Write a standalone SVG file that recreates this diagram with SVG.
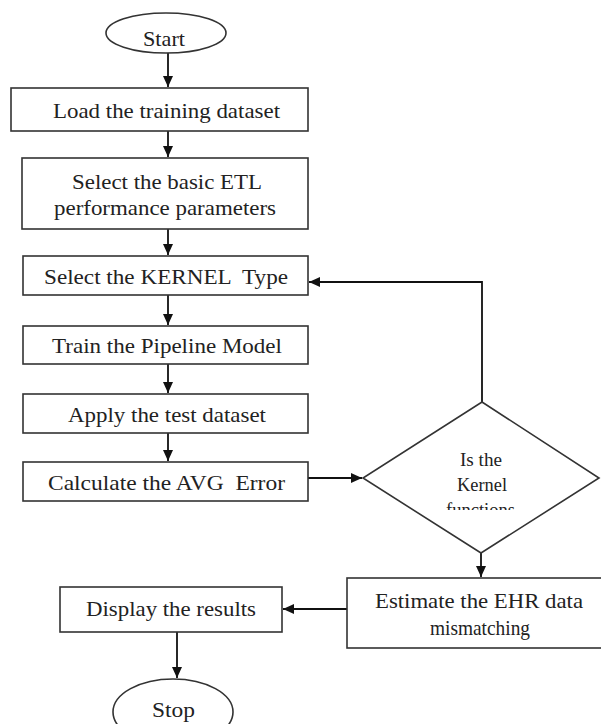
<svg xmlns="http://www.w3.org/2000/svg" width="601" height="724" viewBox="0 0 601 724">
<style>
.box{fill:#fff;stroke:#333;stroke-width:1.6}
.t{font-family:"Liberation Serif","Times New Roman",serif;font-size:22px;fill:#222;text-anchor:middle}
.s{font-family:"Liberation Serif","Times New Roman",serif;font-size:19px;fill:#222;text-anchor:middle}
.c{fill:none;stroke:#111;stroke-width:1.8}
</style>
<defs>
<marker id="ah" markerUnits="userSpaceOnUse" markerWidth="12" markerHeight="10" refX="11" refY="5" orient="auto">
<path d="M0,0 L11,5 L0,10 z" fill="#111"/>
</marker>
<clipPath id="fclip"><rect x="400" y="440" width="160" height="70"/></clipPath>
</defs>
<g id="connectors">
<line class="c" x1="168" y1="53" x2="168" y2="87" marker-end="url(#ah)"/>
<line class="c" x1="168" y1="131" x2="168" y2="157" marker-end="url(#ah)"/>
<line class="c" x1="168" y1="229" x2="168" y2="255" marker-end="url(#ah)"/>
<line class="c" x1="168" y1="295" x2="168" y2="325" marker-end="url(#ah)"/>
<line class="c" x1="168" y1="364" x2="168" y2="393" marker-end="url(#ah)"/>
<line class="c" x1="168" y1="433" x2="168" y2="461" marker-end="url(#ah)"/>
<line class="c" x1="308" y1="478" x2="362" y2="478" marker-end="url(#ah)"/>
<line class="c" x1="481" y1="553" x2="481" y2="577" marker-end="url(#ah)"/>
<line class="c" x1="347" y1="609" x2="283" y2="609" marker-end="url(#ah)"/>
<line class="c" x1="177" y1="632" x2="177" y2="678" marker-end="url(#ah)"/>
<polyline class="c" points="482,402 482,282 309,282" marker-end="url(#ah)"/>
</g>
<g id="start">
<ellipse class="box" cx="166" cy="33" rx="60" ry="20"/>
<text class="t" x="164" y="46" textLength="42" lengthAdjust="spacingAndGlyphs">Start</text>
</g>
<g id="load">
<rect class="box" x="11" y="88" width="297" height="43"/>
<text class="t" x="166.5" y="118" textLength="227" lengthAdjust="spacingAndGlyphs">Load the training dataset</text>
</g>
<g id="select-params">
<rect class="box" x="22" y="158" width="286" height="71"/>
<text class="t" x="167" y="189" textLength="190" lengthAdjust="spacingAndGlyphs">Select the basic ETL</text>
<text class="t" x="165" y="215" textLength="222" lengthAdjust="spacingAndGlyphs">performance parameters</text>
</g>
<g id="select-kernel">
<rect class="box" x="23" y="256" width="285" height="39"/>
<text class="t" x="166" y="284" textLength="244" lengthAdjust="spacingAndGlyphs" xml:space="preserve">Select the KERNEL  Type</text>
</g>
<g id="train">
<rect class="box" x="23" y="326" width="285" height="38"/>
<text class="t" x="167" y="353" textLength="230" lengthAdjust="spacingAndGlyphs">Train the Pipeline Model</text>
</g>
<g id="apply">
<rect class="box" x="23" y="394" width="285" height="39"/>
<text class="t" x="167" y="422" textLength="198" lengthAdjust="spacingAndGlyphs">Apply the test dataset</text>
</g>
<g id="calculate">
<rect class="box" x="23" y="462" width="285" height="39"/>
<text class="t" x="166.5" y="490" textLength="237" lengthAdjust="spacingAndGlyphs" xml:space="preserve">Calculate the AVG  Error</text>
</g>
<g id="decision">
<polygon class="box" points="482,402 599,478 481,553 363,478"/>
<text class="s" x="481" y="466" textLength="42" lengthAdjust="spacingAndGlyphs">Is the</text>
<text class="s" x="482" y="491" textLength="50" lengthAdjust="spacingAndGlyphs">Kernel</text>
<text class="s" x="480.5" y="516" textLength="69" lengthAdjust="spacingAndGlyphs" clip-path="url(#fclip)">functions</text>
</g>
<g id="estimate">
<rect class="box" x="347" y="578" width="260" height="70"/>
<text class="t" x="479" y="608" textLength="208" lengthAdjust="spacingAndGlyphs">Estimate the EHR data</text>
<text class="t" x="480" y="635" textLength="100" lengthAdjust="spacingAndGlyphs">mismatching</text>
</g>
<g id="display">
<rect class="box" x="60" y="587" width="222" height="45"/>
<text class="t" x="171" y="616" textLength="170" lengthAdjust="spacingAndGlyphs">Display the results</text>
</g>
<g id="stop">
<ellipse class="box" cx="173" cy="712" rx="60" ry="33"/>
<text class="t" x="173.5" y="717" textLength="43" lengthAdjust="spacingAndGlyphs">Stop</text>
</g>
</svg>
